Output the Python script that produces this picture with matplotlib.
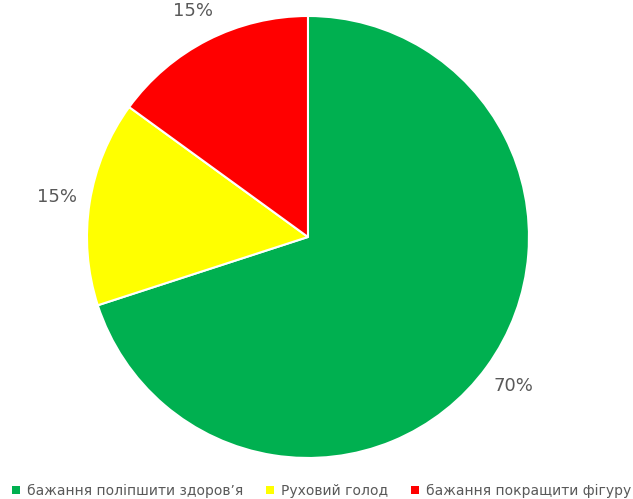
import matplotlib
matplotlib.use("Agg")
import matplotlib.pyplot as plt
from matplotlib.patches import Patch

categories = ["бажання поліпшити здоров’я", "Руховий голод", "бажання покращити фігуру"]
values = [70, 15, 15]
colors = ["#00B050", "#FFFF00", "#FF0000"]

fig = plt.figure(figsize=(6.33, 4.99), dpi=100)
ax = fig.add_axes([0.1374, 0.0822, 442 / 633, 442 / 499])

wedges, texts = ax.pie(
    values,
    colors=colors,
    startangle=90,
    counterclock=False,
    labels=[f"{v}%" for v in values],
    labeldistance=1.15,
    wedgeprops=dict(edgecolor="white", linewidth=1.5),
    textprops=dict(color="#595959", fontsize=13),
)
for t in texts:
    t.set_ha("center")
    t.set_va("center")
ax.set_xlim(-1, 1)
ax.set_ylim(-1, 1)
ax.set_aspect("equal")

handles = [Patch(facecolor=c, edgecolor="none") for c in colors]
fig.legend(
    handles, categories,
    loc="center left", bbox_to_anchor=(12 / 633, 8 / 499), ncol=3,
    frameon=False, fontsize=10, labelcolor="#595959",
    handlelength=0.58, handleheight=0.58, handletextpad=0.5,
    columnspacing=1.65, borderaxespad=0, borderpad=0,
)

fig.savefig("out.png", dpi=100)
